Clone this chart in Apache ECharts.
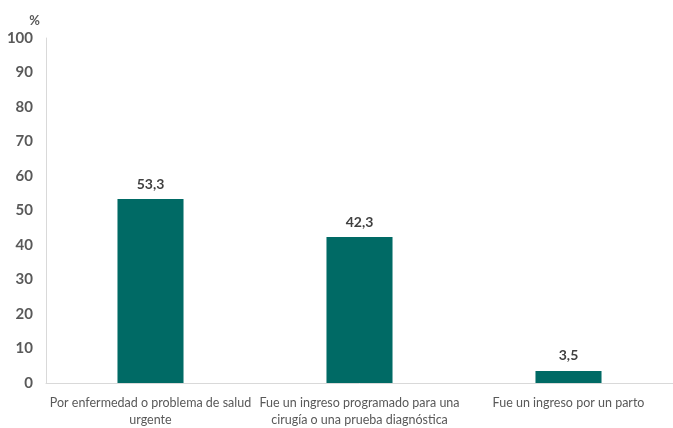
<!DOCTYPE html>
<html>
<head>
<meta charset="utf-8">
<script src="https://cdn.jsdelivr.net/npm/echarts@6/dist/echarts.min.js"></script>
<style>
  html, body { margin: 0; padding: 0; background: #ffffff; overflow: hidden; }
  #chart { width: 673px; height: 428px; }
</style>
</head>
<body>
<div id="chart"></div>
<script>
// Motivo del ingreso hospitalario (%)
const categories = [
  'Por enfermedad o problema de salud\nurgente',
  'Fue un ingreso programado para una\ncirugía o una prueba diagnóstica',
  'Fue un ingreso por un parto'
];
const values = [53.3, 42.3, 3.5];
const yTicks = { min: 0, max: 100, interval: 10 };

const FONT = 'Lato, "Liberation Sans", sans-serif';
const GREY = '#595959';

const chart = echarts.init(document.getElementById('chart'), null, { renderer: 'canvas' });
chart.setOption({
  animation: false,
  grid: { left: 46, right: 0, top: 38, height: 351, containLabel: false },
  xAxis: {
    type: 'category',
    data: categories,
    axisLine: { show: true, lineStyle: { color: '#d9d9d9', width: 1 } },
    axisTick: { show: false },
    axisLabel: {
      color: GREY, fontFamily: FONT, fontSize: 12.5, lineHeight: 17, margin: 11, interval: 0
    }
  },
  yAxis: {
    type: 'value',
    min: yTicks.min, max: yTicks.max, interval: yTicks.interval,
    name: '%',
    nameLocation: 'end',
    nameGap: 11,
    nameTextStyle: { color: GREY, fontFamily: FONT, fontSize: 13, fontWeight: 'bold', align: 'right', padding: [0, 6, 0, 0] },
    axisLine: { show: true, lineStyle: { color: '#d9d9d9', width: 1 } },
    axisTick: { show: false },
    splitLine: { show: false },
    axisLabel: { color: GREY, fontFamily: FONT, fontSize: 15, fontWeight: 'bold', margin: 13 }
  },
  series: [{
    type: 'bar',
    data: values,
    barWidth: '31.6%',
    itemStyle: { color: '#006A65' },
    label: {
      show: true, position: 'top', distance: 8,
      color: '#404040', fontFamily: FONT, fontSize: 14, fontWeight: 'bold',
      formatter: p => p.value.toFixed(1).replace('.', ',')
    }
  }]
});
</script>
</body>
</html>
